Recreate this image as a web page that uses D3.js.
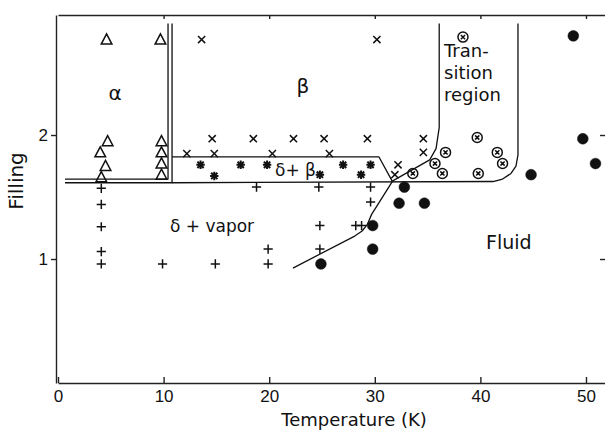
<!DOCTYPE html>
<html>
<head>
<meta charset="utf-8">
<script src="https://cdn.jsdelivr.net/npm/d3@7"></script>
<style>
  body { margin: 0; background: #fff; }
  svg { display: block; }
  .axis path, .axis line { stroke: #222; stroke-width: 1.4; }
  .axis text { font-family: "Liberation Sans", Arial, sans-serif; font-size: 17px; fill: #111; }
  .lbl { font-family: "DejaVu Sans", sans-serif; fill: #111; }
</style>
</head>
<body>
<div id="chart"></div>
<script>
// phase points, [temperature K, filling]
let alphaPts = [[4.6,2.77],[9.7,2.77],[4.7,1.95],[4.0,1.86],[4.5,1.75],[4.1,1.66],
                [9.8,1.95],[9.8,1.86],[9.8,1.77],[9.8,1.68]];
let vaporPts = [[4.1,1.57],[4.1,1.44],[4.1,1.26],[4.1,1.06],[4.1,0.96],[9.9,0.96],
                [14.9,0.96],[19.9,0.96],[19.9,1.08],[24.8,1.08],[24.8,1.27],[28.2,1.27],
                [28.75,1.27],[18.8,1.58],[24.7,1.58],[29.6,1.58],[29.6,1.46]];
let betaPts = [[13.6,2.77],[30.2,2.77],
               [14.6,1.97],[18.5,1.97],[22.3,1.97],[25.2,1.97],[29.3,1.97],[34.6,1.97],
               [12.2,1.85],[14.8,1.85],[20.3,1.85],[25.7,1.85],[34.6,1.86],
               [32.2,1.76],[31.9,1.68]];
let deltaBetaPts = [[13.5,1.76],[14.8,1.67],[17.3,1.76],[19.8,1.76],[24.8,1.68],
                    [27.0,1.76],[28.7,1.68],[29.6,1.76]];
let transPts = [[38.35,2.79],[39.7,1.98],[36.7,1.86],[41.6,1.86],[35.7,1.77],[42.1,1.77],
                [33.6,1.69],[36.4,1.69],[39.8,1.69]];
let fluidPts = [[48.8,2.80],[49.7,1.97],[50.9,1.77],[44.8,1.68],[32.8,1.58],[32.3,1.45],
                [34.7,1.45],[29.8,1.27],[29.8,1.08],[24.9,0.96]];

// phase boundaries
let alphaInner = [[0.66,1.645],[10.42,1.645],[10.42,2.90]];
let alphaOuter = [[0.66,1.615],[10.8,1.615],[10.8,2.90]];
let deltaBetaTop = [[10.8,1.823],[30.4,1.823],[31.7,1.62]];
let transRight = [[10.8,1.615],[41.2,1.625],[42.1,1.645],[42.9,1.69],[43.37,1.75],[43.56,1.84],[43.56,2.90]];
let transLeft = [[22.25,0.927],[28.1,1.185],[28.8,1.226],[29.3,1.28],[29.7,1.36],[31.7,1.63],
                 [35.2,1.80],[35.8,1.89],[36.1,2.06],[36.1,2.90]];

let xTicks = [0,10,20,30,40,50];
let yTicks = [1,2];

var W = 605, H = 430;
var svg = d3.select('#chart').append('svg').attr('width', W).attr('height', H);

var x = d3.scaleLinear().domain([0, 52]).range([58, 607.1]);
var y = d3.scaleLinear().domain([0, 2.968]).range([383, 15]);

// axes
svg.append('g').attr('class','axis').attr('transform','translate(0,383)')
  .call(d3.axisBottom(x).tickValues(xTicks).tickSize(-6).tickSizeOuter(0).tickPadding(7).tickFormat(d3.format('d')));
svg.append('g').attr('class','axis').attr('transform','translate(0,15)')
  .call(d3.axisTop(x).tickValues(xTicks.slice(1)).tickSize(-4).tickSizeOuter(0).tickFormat(''));
svg.append('g').attr('class','axis').attr('transform','translate(56,0)')
  .call(d3.axisLeft(y).tickValues(yTicks).tickSize(5).tickSizeOuter(0).tickPadding(3).tickFormat(d3.format('d')));
svg.append('g').attr('class','axis').attr('transform','translate(607,0)')
  .call(d3.axisRight(y).tickValues(yTicks).tickSize(-7).tickSizeOuter(0).tickFormat(''));
svg.selectAll('.axis text').style('font-family','"Liberation Sans", Arial, sans-serif');

// boundary lines
var line = d3.line().x(d => x(d[0])).y(d => y(d[1]));
[alphaInner, alphaOuter, deltaBetaTop, transRight, transLeft].forEach(pts => {
  svg.append('path').attr('d', line(pts))
    .attr('fill','none').attr('stroke','#111').attr('stroke-width',1.3)
    .attr('stroke-linejoin','round');
});

// marker shapes
var tri = { draw(c, r) { c.moveTo(0,-r); c.lineTo(r*0.95,r*0.8); c.lineTo(-r*0.95,r*0.8); c.closePath(); } };
var plus = { draw(c, r) { c.moveTo(-r,0); c.lineTo(r,0); c.moveTo(0,-r); c.lineTo(0,r); } };
var times = { draw(c, r) { c.moveTo(-r,-r); c.lineTo(r,r); c.moveTo(-r,r); c.lineTo(r,-r); } };
var star = { draw(c, r) {
  c.moveTo(-r,0); c.lineTo(r,0); c.moveTo(0,-r); c.lineTo(0,r);
  var k = r*0.75; c.moveTo(-k,-k); c.lineTo(k,k); c.moveTo(-k,k); c.lineTo(k,-k);
} };
var otimes = { draw(c, r) {
  c.moveTo(r,0); c.arc(0,0,r,0,2*Math.PI);
  var k = r*0.42; c.moveTo(-k,-k); c.lineTo(k,k); c.moveTo(-k,k); c.lineTo(k,-k);
} };
var disc = { draw(c, r) { c.moveTo(r,0); c.arc(0,0,r,0,2*Math.PI); } };

function drawPts(pts, type, size, sw, fill) {
  svg.append('g').selectAll('path')
    .data(pts)
    .enter()
      .append('path')
        .attr('transform', d => 'translate(' + x(d[0]) + ',' + y(d[1]) + ')')
        .attr('d', d3.symbol().type(type).size(size)())
        .attr('fill', fill)
        .attr('stroke', '#111')
        .attr('stroke-width', sw);
}

drawPts(alphaPts, tri, 5.6, 1.5, 'none');
drawPts(vaporPts, plus, 4.6, 1.5, 'none');
drawPts(betaPts, times, 3.6, 1.5, 'none');
drawPts(deltaBetaPts, star, 4.2, 2.0, 'none');
drawPts(transPts, otimes, 5.0, 1.5, 'none');
drawPts(fluidPts, disc, 5.4, 0.5, '#111');

// region labels
function label(txt, px, py, size, anchor) {
  svg.append('text').attr('class','lbl').attr('x', px).attr('y', py)
    .attr('font-size', size).attr('text-anchor', anchor || 'start').text(txt);
}
label('α', 115, 100, 20, 'middle');
label('β', 303, 93, 20, 'middle');
label('δ+ β', 275, 176, 17);
label('δ + vapor', 170, 232, 17);
label('Tran-', 444, 57, 18);
label('sition', 444, 79, 18);
label('region', 444, 101, 18);
label('Fluid', 486, 249, 19);

// axis titles
label('Temperature (K)', 354, 426, 18, 'middle');
svg.append('text').attr('class','lbl')
  .attr('transform','translate(23,181) rotate(-90)')
  .attr('font-size', 20).attr('text-anchor','middle').text('Filling');
</script>
</body>
</html>
